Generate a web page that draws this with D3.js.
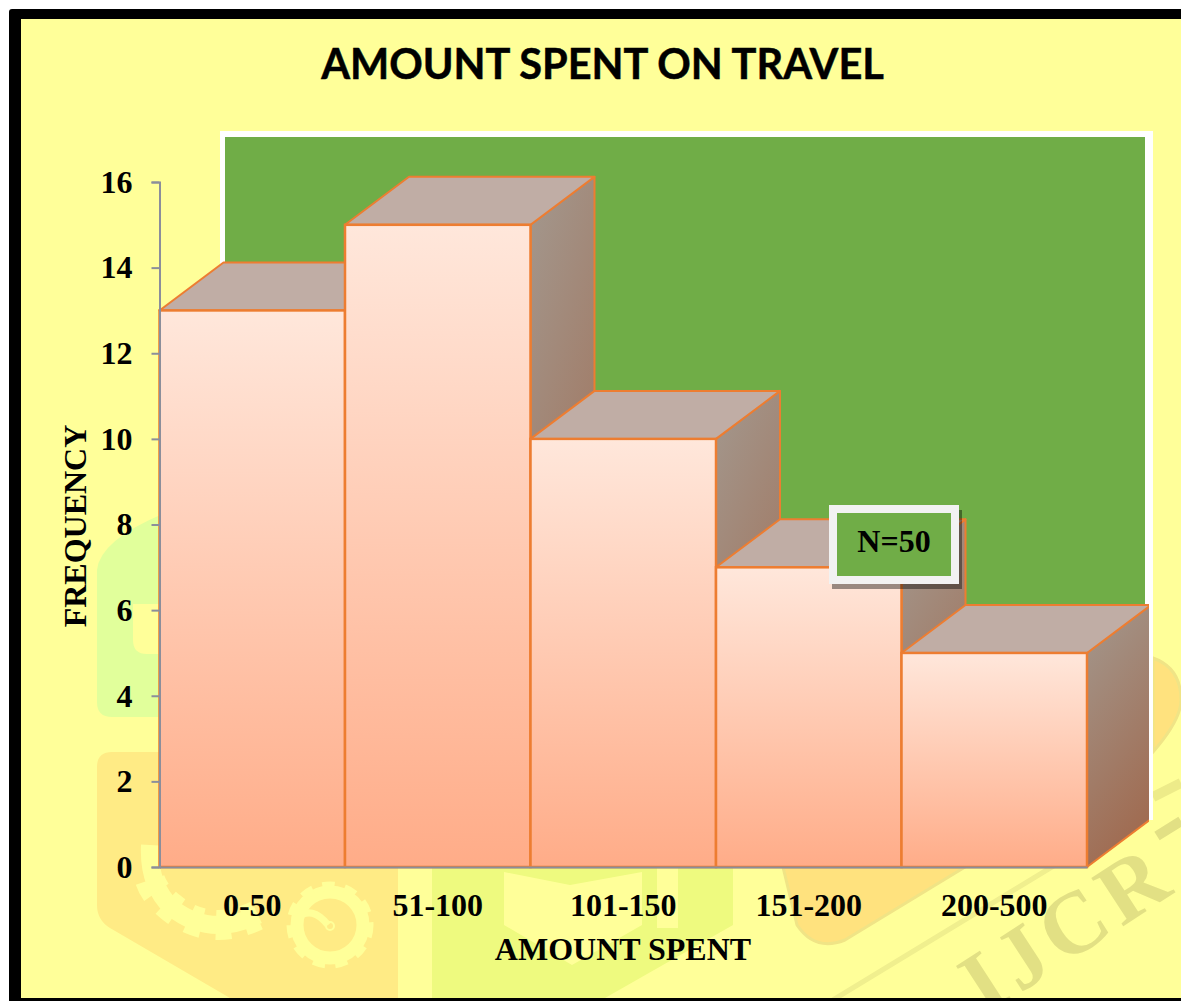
<!DOCTYPE html>
<html>
<head>
<meta charset="utf-8">
<title>Amount spent on travel</title>
<script src="https://cdn.jsdelivr.net/npm/d3@7/dist/d3.min.js"></script>
<style>
	html, body { margin: 0; padding: 0; background: #fff; }
	svg { display: block; }
	.serif { font-family: "Liberation Serif", serif; font-weight: bold; fill: #000; }
</style>
</head>
<body>
<div id="chart"></div>
<script>
const categories = ['0-50', '51-100', '101-150', '151-200', '200-500'];
const frequency = [13, 15, 10, 7, 5];
const yTicks = [0, 2, 4, 6, 8, 10, 12, 14, 16];

const WIDTH = 1181;
const HEIGHT = 1001;
// offset of the back face of the 3d bars
const DEPTH_X = 64;
const DEPTH_Y = 48;
const ORANGE = '#ED7D31';
const AXIS_GREY = '#8B8E9B';
const PAGE = '#FFFF99';

const svg = d3.select('#chart').append('svg')
	.attr('width', WIDTH)
	.attr('height', HEIGHT);

const defs = svg.append('defs');

const front = defs.append('linearGradient')
	.attr('id', 'front')
	.attr('x1', 0).attr('y1', 0).attr('x2', 0).attr('y2', 1);
front.append('stop').attr('offset', '0%').attr('stop-color', '#FFE7DB');
front.append('stop').attr('offset', '100%').attr('stop-color', '#FFAC88');

const side = defs.append('linearGradient')
	.attr('id', 'side')
	.attr('x1', 0).attr('y1', 0).attr('x2', 0.3).attr('y2', 1);
side.append('stop').attr('offset', '0%').attr('stop-color', '#A3988E');
side.append('stop').attr('offset', '100%').attr('stop-color', '#A06C52');

// the wall ends at x = 1148, the last bar's back corner stops there too
defs.append('clipPath')
	.attr('id', 'plot-clip')
	.append('rect')
	.attr('x', 0).attr('y', 0)
	.attr('width', 1149).attr('height', HEIGHT);

// page frame
svg.append('rect')
	.attr('x', 9).attr('y', 9)
	.attr('width', WIDTH).attr('height', HEIGHT)
	.attr('rx', 3)
	.attr('fill', '#000');
svg.append('rect')
	.attr('x', 21).attr('y', 19)
	.attr('width', WIDTH - 21).attr('height', 979)
	.attr('fill', PAGE);

// faded journal logo behind the chart
const mark = svg.append('g');
mark.append('path')
	.attr('fill', '#E1FF9B')
	.attr('fill-rule', 'evenodd')
	.attr('d', 'M97 702V570Q100 540 165 513V717H112Q97 717 97 702ZM133 604V640Q133 654 147 654H165V604Z');
mark.append('path')
	.attr('fill', '#FFEB85')
	.attr('d', 'M97 767Q97 752 112 752H165V867H398V998H230L110 928Q97 920 97 905Z');
// gear arc under the first bar
mark.append('path')
	.attr('fill', 'none')
	.attr('stroke', PAGE)
	.attr('stroke-width', 18)
	.attr('d', 'M150 845Q148 885 172 908Q210 938 258 915');
mark.append('path')
	.attr('fill', 'none')
	.attr('stroke', PAGE)
	.attr('stroke-width', 30)
	.attr('stroke-dasharray', '14 14')
	.attr('d', 'M150 880Q155 895 172 908Q210 938 258 915');
// gear wheel
mark.append('circle')
	.attr('cx', 330).attr('cy', 925).attr('r', 33)
	.attr('fill', 'none')
	.attr('stroke', PAGE)
	.attr('stroke-width', 13);
mark.append('circle')
	.attr('cx', 330).attr('cy', 925).attr('r', 39)
	.attr('fill', 'none')
	.attr('stroke', PAGE)
	.attr('stroke-width', 9)
	.attr('stroke-dasharray', '12 10');
mark.append('path')
	.attr('fill', 'none')
	.attr('stroke', PAGE)
	.attr('stroke-width', 7)
	.attr('d', 'M297 918Q312 905 328 925');
mark.append('circle')
	.attr('cx', 330).attr('cy', 926).attr('r', 4)
	.attr('fill', 'none')
	.attr('stroke', PAGE)
	.attr('stroke-width', 2);
mark.append('path')
	.attr('fill', '#EEFA7F')
	.attr('d', 'M432 867H733V925L605 998H432Z');
mark.append('path')
	.attr('fill', PAGE)
	.attr('d', 'M504 872L570 885L642 872V925L572 965L504 925Z');
mark.append('rect')
	.attr('x', 657).attr('y', 867)
	.attr('width', 21).attr('height', 61)
	.attr('fill', PAGE);
mark.append('path')
	.attr('fill', '#FFE27E')
	.attr('stroke', '#F0E486')
	.attr('stroke-width', 3)
	.attr('d', 'M783 867H965L845 940Q815 952 797 925Z');
mark.append('path')
	.attr('fill', '#FFE27E')
	.attr('stroke', '#F0E486')
	.attr('stroke-width', 3)
	.attr('d', 'M1153 658Q1181 668 1181 700Q1181 720 1153 752Z');
mark.append('path')
	.attr('fill', 'none')
	.attr('stroke', '#F0EF8E')
	.attr('stroke-width', 5)
	.attr('d', 'M833 1000L1060 862');
mark.append('path')
	.attr('fill', 'none')
	.attr('stroke', '#EDEB89')
	.attr('stroke-width', 10)
	.attr('d', 'M1153 797L1181 783');
// first stroke of the T, the rest of it is off the page
mark.append('path')
	.attr('fill', 'none')
	.attr('stroke', '#E2E084')
	.attr('stroke-width', 10)
	.attr('d', 'M1157 836L1181 821');
mark.append('text')
	.attr('transform', 'translate(985,1016) rotate(-33)')
	.attr('font-family', '"Liberation Serif", serif')
	.attr('font-weight', 'bold')
	.attr('font-size', 88)
	.attr('letter-spacing', 7)
	.attr('fill', '#E2E084')
	.text('IJCR');
svg.append('rect')
	.attr('x', 21).attr('y', 998)
	.attr('width', WIDTH - 21).attr('height', 3)
	.attr('fill', '#000');

// back wall
svg.append('rect')
	.attr('x', 220).attr('y', 131)
	.attr('width', 933).attr('height', 689)
	.attr('fill', '#fff');
svg.append('rect')
	.attr('x', 225).attr('y', 137)
	.attr('width', 920).attr('height', 683)
	.attr('fill', '#70AD47');

const x = d3.scaleBand()
	.domain(categories)
	.range([159.5, 1087]);

const y = d3.scaleLinear()
	.domain([0, 16])
	.range([867, 182]);

// bars, left to right so the shorter neighbour covers the side face
const bars = svg.append('g')
	.attr('clip-path', 'url(#plot-clip)')
	.selectAll('g')
	.data(categories.map((c, i) => ({ category: c, value: frequency[i] })))
	.enter()
	.append('g');

bars.append('path')
	.attr('fill', 'url(#side)')
	.attr('stroke', ORANGE)
	.attr('stroke-width', 2)
	.attr('stroke-linejoin', 'round')
	.attr('d', (d) => {
		const x1 = x(d.category) + x.bandwidth();
		return 'M' + x1 + ' ' + y(d.value) +
			'L' + (x1 + DEPTH_X) + ' ' + (y(d.value) - DEPTH_Y) +
			'V' + (y(0) - DEPTH_Y) +
			'L' + x1 + ' ' + y(0) + 'Z';
	});

bars.append('path')
	.attr('fill', '#C0ADA5')
	.attr('stroke', ORANGE)
	.attr('stroke-width', 2)
	.attr('stroke-linejoin', 'round')
	.attr('d', (d) => {
		const x0 = x(d.category);
		const x1 = x0 + x.bandwidth();
		const top = y(d.value);
		return 'M' + x0 + ' ' + top +
			'L' + (x0 + DEPTH_X) + ' ' + (top - DEPTH_Y) +
			'H' + (x1 + DEPTH_X) +
			'L' + x1 + ' ' + top + 'Z';
	});

bars.append('rect')
	.attr('x', (d) => x(d.category))
	.attr('y', (d) => y(d.value))
	.attr('width', x.bandwidth())
	.attr('height', (d) => y(0) - y(d.value))
	.attr('fill', 'url(#front)')
	.attr('stroke', ORANGE)
	.attr('stroke-width', 2.5);

// axes
const yAxis = svg.append('g')
	.attr('transform', 'translate(159.5,0)')
	.call(d3.axisLeft(y).tickValues(yTicks).tickSize(8).tickPadding(19));
const xAxis = svg.append('g')
	.attr('transform', 'translate(0,867)')
	.call(d3.axisBottom(x).tickSize(0).tickPadding(26));

[yAxis, xAxis].forEach((axis) => {
	axis.selectAll('path, line').attr('stroke', AXIS_GREY).attr('stroke-width', 2);
	axis.selectAll('text')
		.attr('class', 'serif')
		.attr('fill', '#000')
		.style('font-size', '32px');
});

svg.append('text')
	.attr('class', 'serif')
	.attr('x', 623).attr('y', 960)
	.attr('text-anchor', 'middle')
	.style('font-size', '32px')
	.text('AMOUNT SPENT');

svg.append('text')
	.attr('class', 'serif')
	.attr('transform', 'translate(86,526) rotate(-90)')
	.attr('text-anchor', 'middle')
	.style('font-size', '32px')
	.text('FREQUENCY');

svg.append('text')
	.attr('x', 602.5).attr('y', 79)
	.attr('text-anchor', 'middle')
	.attr('font-family', 'Lato, sans-serif')
	.attr('font-weight', 'bold')
	.attr('font-size', 41.5)
	.attr('fill', '#000')
	.attr('stroke', '#000')
	.attr('stroke-width', 0.5)
	.text('AMOUNT SPENT ON TRAVEL');

// N=50 call-out
svg.append('rect')
	.attr('x', 832).attr('y', 510)
	.attr('width', 130).attr('height', 79)
	.attr('fill', '#000')
	.attr('opacity', 0.4);
svg.append('rect')
	.attr('x', 833).attr('y', 509)
	.attr('width', 122).attr('height', 71)
	.attr('fill', '#70AD47')
	.attr('stroke', '#F2F2F2')
	.attr('stroke-width', 8);
svg.append('text')
	.attr('class', 'serif')
	.attr('x', 894).attr('y', 552)
	.attr('text-anchor', 'middle')
	.style('font-size', '32px')
	.text('N=50');
</script>
</body>
</html>
